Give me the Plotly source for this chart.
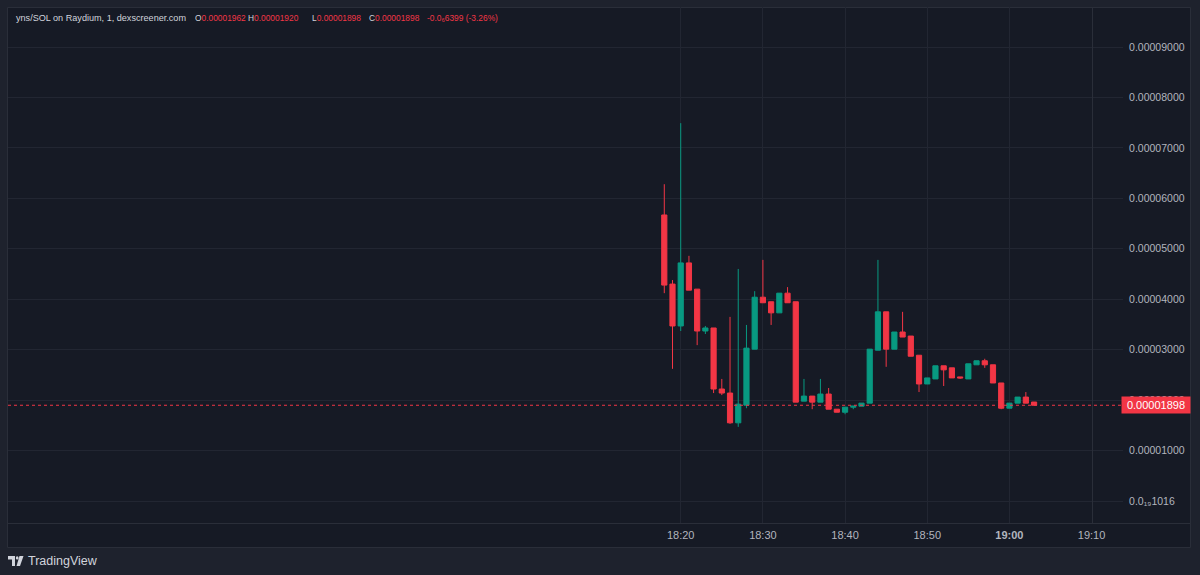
import plotly.graph_objects as go

# ---------------- data ----------------
DAY = "2024-01-01 "
times = ["18:18", "18:19", "18:20", "18:21", "18:22", "18:23", "18:24", "18:25", "18:26", "18:27",
         "18:28", "18:29", "18:30", "18:31", "18:32", "18:33", "18:34", "18:35", "18:36", "18:37",
         "18:38", "18:39", "18:40", "18:41", "18:42", "18:43", "18:44", "18:45", "18:46", "18:47",
         "18:48", "18:49", "18:50", "18:51", "18:52", "18:53", "18:54", "18:55", "18:56", "18:57",
         "18:58", "18:59", "19:00", "19:01", "19:02", "19:03"]
opens = [5.67e-5, 4.30e-5, 3.47e-5, 4.72e-5, 4.20e-5, 3.37e-5, 3.43e-5, 2.22e-5, 2.14e-5, 1.55e-5,
         1.90e-5, 3.01e-5, 4.04e-5, 3.95e-5, 3.73e-5, 4.12e-5, 3.95e-5, 1.98e-5, 2.08e-5, 1.96e-5,
         2.12e-5, 1.82e-5, 1.76e-5, 1.86e-5, 1.88e-5, 1.94e-5, 2.99e-5, 3.75e-5, 3.01e-5, 3.35e-5,
         3.27e-5, 2.89e-5, 2.32e-5, 2.42e-5, 2.68e-5, 2.64e-5, 2.46e-5, 2.42e-5, 2.70e-5, 2.78e-5,
         2.70e-5, 2.34e-5, 1.84e-5, 1.94e-5, 2.06e-5, 1.962e-5]
highs = [6.28e-5, 4.38e-5, 7.49e-5, 4.86e-5, 4.20e-5, 3.47e-5, 3.43e-5, 2.42e-5, 3.65e-5, 4.60e-5,
         3.49e-5, 4.16e-5, 4.78e-5, 3.95e-5, 4.12e-5, 4.24e-5, 3.95e-5, 2.42e-5, 2.08e-5, 2.42e-5,
         2.24e-5, 1.82e-5, 1.86e-5, 1.88e-5, 1.94e-5, 3.01e-5, 4.78e-5, 3.75e-5, 3.35e-5, 3.75e-5,
         3.27e-5, 2.89e-5, 2.44e-5, 2.68e-5, 2.68e-5, 2.64e-5, 2.46e-5, 2.72e-5, 2.78e-5, 2.82e-5,
         2.70e-5, 2.34e-5, 1.94e-5, 2.06e-5, 2.16e-5, 1.962e-5]
lows = [4.12e-5, 2.62e-5, 3.37e-5, 4.18e-5, 3.09e-5, 3.31e-5, 2.14e-5, 2.10e-5, 1.53e-5, 1.47e-5,
        1.84e-5, 3.01e-5, 3.93e-5, 3.49e-5, 3.73e-5, 3.93e-5, 1.96e-5, 1.98e-5, 1.82e-5, 1.96e-5,
        1.82e-5, 1.76e-5, 1.72e-5, 1.82e-5, 1.88e-5, 1.94e-5, 2.99e-5, 2.66e-5, 3.01e-5, 3.25e-5,
        2.87e-5, 2.16e-5, 2.32e-5, 2.42e-5, 2.28e-5, 2.44e-5, 2.42e-5, 2.42e-5, 2.70e-5, 2.64e-5,
        2.34e-5, 1.82e-5, 1.84e-5, 1.94e-5, 1.94e-5, 1.898e-5]
closes = [4.28e-5, 3.47e-5, 4.72e-5, 4.18e-5, 3.37e-5, 3.43e-5, 2.22e-5, 2.14e-5, 1.55e-5, 1.92e-5,
          3.03e-5, 4.04e-5, 3.93e-5, 3.73e-5, 4.12e-5, 3.93e-5, 1.96e-5, 2.08e-5, 1.96e-5, 2.12e-5,
          1.82e-5, 1.76e-5, 1.86e-5, 1.88e-5, 1.94e-5, 3.01e-5, 3.75e-5, 3.01e-5, 3.35e-5, 3.25e-5,
          2.87e-5, 2.32e-5, 2.44e-5, 2.68e-5, 2.60e-5, 2.44e-5, 2.44e-5, 2.72e-5, 2.78e-5, 2.70e-5,
          2.34e-5, 1.84e-5, 1.94e-5, 2.06e-5, 1.94e-5, 1.898e-5]

last_price = 1.898e-5
last_price_text = "0.00001898"

y_tickvals = [0.0, 1e-5, 2e-5, 3e-5, 4e-5, 5e-5, 6e-5, 7e-5, 8e-5, 9e-5]
y_ticktext = ["0.0\u2081\u20891016", "0.00001000", "0.00002000", "0.00003000", "0.00004000",
              "0.00005000", "0.00006000", "0.00007000", "0.00008000", "0.00009000"]
x_ticktimes = ["18:20", "18:30", "18:40", "18:50", "19:00", "19:10"]
x_ticktext = ["18:20", "18:30", "18:40", "18:50", "<b>19:00</b>", "19:10"]

title_main = "yns/SOL on Raydium, 1, dexscreener.com"
ohlc_header = [("O", "0.00001962"), ("H", "0.00001920"), ("L", "0.00001898"), ("C", "0.00001898")]
change_text = "-0.0\u20866399 (-3.26%)"

# ---------------- style ----------------
W, H = 1200, 575
L_PX, R_PX, T_PX, B_PX = 8, 1092, 7, 523
OUTER = "#1e222d"
PANEL = "#161a25"
BORDER = "#2a2e39"
GRID = "#222632"
TEXT = "#b2b5be"
GREEN = "#089981"
RED = "#f23645"
FONT = "Liberation Sans, Arial, sans-serif"


def px_x(px):
    return (px - L_PX) / (R_PX - L_PX)


def px_y(py):
    return (B_PX - py) / (B_PX - T_PX)


fig = go.Figure()
fig.add_trace(go.Candlestick(
    x=[DAY + t for t in times], open=opens, high=highs, low=lows, close=closes,
    increasing=dict(line=dict(color=GREEN, width=1), fillcolor=GREEN),
    decreasing=dict(line=dict(color=RED, width=1), fillcolor=RED),
    whiskerwidth=0, showlegend=False, hoverinfo="skip",
))

shapes = [
    # panel
    dict(type="rect", xref="paper", yref="paper", layer="below",
         x0=px_x(7.5), x1=px_x(1190.5), y0=px_y(547.5), y1=px_y(7.5),
         fillcolor=PANEL, line=dict(color=BORDER, width=1)),
    # price-scale separator
    dict(type="line", xref="paper", yref="paper", layer="above",
         x0=px_x(1092.5), x1=px_x(1092.5), y0=px_y(523.5), y1=px_y(7.5),
         line=dict(color=BORDER, width=1)),
    # time-scale separator
    dict(type="line", xref="paper", yref="paper", layer="above",
         x0=px_x(7.5), x1=px_x(1190.5), y0=px_y(523.5), y1=px_y(523.5),
         line=dict(color=BORDER, width=1)),
    # last price dotted line
    dict(type="line", xref="paper", yref="y", layer="above",
         x0=0, x1=px_x(1121), y0=last_price, y1=last_price,
         line=dict(color=RED, width=1, dash="dot")),
    # TradingView logo (approximation)
    dict(type="path", xref="paper", yref="paper", layer="above",
         path=f"M {px_x(8)} {px_y(556)} L {px_x(15)} {px_y(556)} L {px_x(15)} {px_y(566)} "
              f"L {px_x(12)} {px_y(566)} L {px_x(12)} {px_y(559.5)} L {px_x(8)} {px_y(559.5)} Z",
         fillcolor="#d1d4dc", line=dict(width=0)),
    dict(type="circle", xref="paper", yref="paper", layer="above",
         x0=px_x(15.8), x1=px_x(18.6), y0=px_y(559.6), y1=px_y(556.2),
         fillcolor="#d1d4dc", line=dict(width=0)),
    dict(type="path", xref="paper", yref="paper", layer="above",
         path=f"M {px_x(19.5)} {px_y(556)} L {px_x(23.5)} {px_y(556)} L {px_x(20)} {px_y(566)} "
              f"L {px_x(16.5)} {px_y(566)} Z",
         fillcolor="#d1d4dc", line=dict(width=0)),
]

annotations = [
    dict(xref="paper", yref="paper", x=px_x(14), y=px_y(18), xanchor="left", yanchor="middle",
         text=title_main, showarrow=False, font=dict(family=FONT, size=9.1, color="#d1d4dc")),
    dict(xref="paper", yref="paper", x=px_x(26), y=px_y(561), xanchor="left", yanchor="middle",
         text="TradingView", showarrow=False, font=dict(family=FONT, size=12.5, color="#d1d4dc")),
    dict(xref="paper", yref="y", x=px_x(1121), y=last_price, xanchor="left", yanchor="middle",
         text=last_price_text, showarrow=False, bgcolor=RED, width=66, height=14, borderpad=1,
         font=dict(family=FONT, size=11, color="#ffffff")),
]
hdr_x = [193, 246, 310, 367]
for (lab, val), hx in zip(ohlc_header, hdr_x):
    annotations.append(dict(
        xref="paper", yref="paper", x=px_x(hx), y=px_y(18), xanchor="left", yanchor="middle",
        text=f"{lab}<span style='color:{RED}'>{val}</span>", showarrow=False,
        font=dict(family=FONT, size=8.4, color="#d1d4dc")))
annotations.append(dict(
    xref="paper", yref="paper", x=px_x(425), y=px_y(18), xanchor="left", yanchor="middle",
    text=change_text, showarrow=False, font=dict(family=FONT, size=8.4, color=RED)))

fig.update_layout(
    width=W, height=H, autosize=False,
    margin=dict(l=L_PX, r=W - R_PX, t=T_PX, b=H - B_PX, pad=0),
    paper_bgcolor=OUTER, plot_bgcolor=PANEL,
    boxgap=0.3, boxgroupgap=0.1,
    shapes=shapes, annotations=annotations,
    xaxis=dict(
        type="date", range=[DAY + "16:58:08", DAY + "19:10:03"],
        rangeslider=dict(visible=False),
        tickmode="array", tickvals=[DAY + t for t in x_ticktimes], ticktext=x_ticktext,
        showgrid=True, gridcolor=GRID, gridwidth=1, zeroline=False, showline=False,
        ticks="", ticklabelstandoff=4,
        tickfont=dict(family=FONT, size=11, color=TEXT),
    ),
    yaxis=dict(
        side="right", range=[-0.436e-5, 9.793e-5],
        tickmode="array", tickvals=y_tickvals, ticktext=y_ticktext,
        showgrid=True, gridcolor=GRID, gridwidth=1, zeroline=False, showline=False,
        ticks="outside", ticklen=30, tickcolor=GRID, tickwidth=1, ticklabelstandoff=4,
        tickfont=dict(family=FONT, size=10.5, color=TEXT),
    ),
)

fig.write_html("out.html")
